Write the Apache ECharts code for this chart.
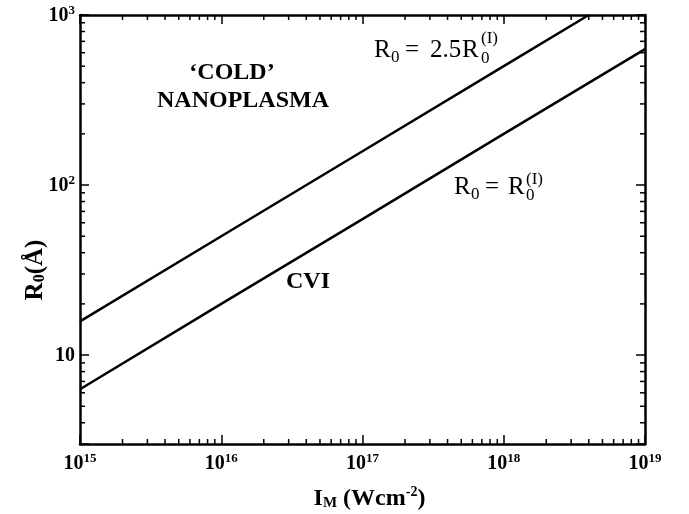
<!DOCTYPE html>
<html>
<head>
<meta charset="utf-8">
<script src="https://cdn.jsdelivr.net/npm/echarts@6/dist/echarts.min.js"></script>
<style>
html, body { margin: 0; padding: 0; background: #fff; }
#chart { width: 689px; height: 514px; }
</style>
</head>
<body>
<div id="chart"></div>
<script>
// peak intensity I_M (W cm^-2)
var intensity = [1e15, 1e16, 1e17, 1e18, 1e19];
// R0 = R0^(I) boundary (angstrom)
var r0Lower = [6.3, 20, 63, 200, 630];
// R0 = 2.5 R0^(I) boundary, leaves the frame at the top near 4e18
var intensityUpper = [1e15, 1e16, 1e17, 1e18, 4e18];
var r0Upper = [15.8, 50, 158, 500, 1000];

var xExponents = ["15", "16", "17", "18", "19"];
var xMinorTicks = [
  2e15, 3e15, 4e15, 5e15, 6e15, 7e15, 8e15, 9e15,
  2e16, 3e16, 4e16, 5e16, 6e16, 7e16, 8e16, 9e16,
  2e17, 3e17, 4e17, 5e17, 6e17, 7e17, 8e17, 9e17,
  2e18, 3e18, 4e18, 5e18, 6e18, 7e18, 8e18, 9e18
];
var yMinorTicks = [4, 5, 6, 7, 8, 9, 20, 30, 40, 50, 60, 70, 80, 90,
  200, 300, 400, 500, 600, 700, 800, 900];

var SERIF = "'Liberation Serif', 'DejaVu Serif', serif";

var chart = echarts.init(document.getElementById("chart"));

function pairs(xs, ys) {
  return xs.map(function (x, i) { return [x, ys[i]]; });
}

function tickRich() {
  return {
    b: { fontFamily: SERIF, fontWeight: "bold", fontSize: 20, color: "#000", verticalAlign: "bottom", lineHeight: 22 },
    s: { fontFamily: SERIF, fontWeight: "bold", fontSize: 13, color: "#000", verticalAlign: "top", lineHeight: 22, padding: [0, 0, 8, 0] }
  };
}

function renderXTick(params, api) {
  var cs = params.coordSys;
  var px = api.coord([api.value(0), api.value(1)])[0];
  var top = cs.y, bottom = cs.y + cs.height;
  return {
    type: "group",
    children: [
      { type: "line", shape: { x1: px, y1: bottom, x2: px, y2: bottom - 5 }, style: { stroke: "#000", lineWidth: 1.5 } },
      { type: "line", shape: { x1: px, y1: top, x2: px, y2: top + 5 }, style: { stroke: "#000", lineWidth: 1.5 } }
    ]
  };
}

function renderYTick(params, api) {
  var cs = params.coordSys;
  var py = api.coord([api.value(0), api.value(1)])[1];
  var left = cs.x, right = cs.x + cs.width;
  return {
    type: "group",
    children: [
      { type: "line", shape: { x1: left, y1: py, x2: left + 5, y2: py }, style: { stroke: "#000", lineWidth: 1.5 } },
      { type: "line", shape: { x1: right, y1: py, x2: right - 5, y2: py }, style: { stroke: "#000", lineWidth: 1.5 } }
    ]
  };
}

function txt(x, y, text, size, bold, align) {
  return {
    type: "text",
    x: x,
    y: y,
    silent: true,
    style: {
      text: text,
      fontFamily: SERIF,
      fontSize: size,
      fontWeight: bold ? "bold" : "normal",
      fill: "#000",
      align: align || "left",
      verticalAlign: "middle"
    }
  };
}

var axisLine = { show: true, lineStyle: { color: "#000", width: 2.5 } };
var majorTick = { show: true, inside: true, length: 9, lineStyle: { color: "#000", width: 1.5 } };

var option = {
  animation: false,
  backgroundColor: "#fff",
  grid: { left: 80, right: 44, top: 15, bottom: 70, outerBoundsMode: "none", containLabel: false },
  xAxis: [
    {
      type: "log",
      min: 1e15,
      max: 1e19,
      position: "bottom",
      axisLine: axisLine,
      axisTick: majorTick,
      splitLine: { show: false },
      axisLabel: {
        margin: 8,
        formatter: function (v) {
          var e = Math.round(Math.log10(v)) - 15;
          return "{b|10}{s|" + xExponents[e] + "}";
        },
        rich: tickRich()
      },
      name: "{i|I}{sub|M}{b| (Wcm}{sup|-2}{b|)}",
      nameLocation: "middle",
      nameGap: 41,
      nameTextStyle: {
        rich: {
          i: { fontFamily: SERIF, fontWeight: "bold", fontSize: 24, color: "#000", verticalAlign: "bottom", lineHeight: 26, padding: [0, 0, 0, 14] },
          b: { fontFamily: SERIF, fontWeight: "bold", fontSize: 24, color: "#000", verticalAlign: "bottom", lineHeight: 26 },
          sub: { fontFamily: SERIF, fontWeight: "bold", fontSize: 15, color: "#000", verticalAlign: "bottom", lineHeight: 26, padding: [7, 0, 0, 0] },
          sup: { fontFamily: SERIF, fontWeight: "bold", fontSize: 14, color: "#000", verticalAlign: "top", lineHeight: 26, padding: [0, 0, 10, 0] }
        }
      }
    },
    {
      type: "log",
      min: 1e15,
      max: 1e19,
      position: "top",
      axisLine: axisLine,
      axisTick: majorTick,
      axisLabel: { show: false },
      splitLine: { show: false }
    }
  ],
  yAxis: [
    {
      type: "log",
      min: 3,
      max: 1000,
      position: "left",
      axisLine: axisLine,
      axisTick: majorTick,
      splitLine: { show: false },
      axisLabel: {
        margin: 5,
        formatter: function (v) {
          if (Math.abs(v - 10) < 1e-6) return "{b|10}";
          if (Math.abs(v - 100) < 1e-6) return "{b|10}{s|2}";
          if (Math.abs(v - 1000) < 1e-6) return "{b|10}{s|3}";
          return "";
        },
        rich: tickRich()
      }
    },
    {
      type: "log",
      min: 3,
      max: 1000,
      position: "right",
      axisLine: axisLine,
      axisTick: majorTick,
      axisLabel: { show: false },
      splitLine: { show: false }
    }
  ],
  series: [
    {
      type: "line",
      name: "R0 = R0(I)",
      data: pairs(intensity, r0Lower),
      symbol: "none",
      lineStyle: { color: "#000", width: 2.5 }
    },
    {
      type: "line",
      name: "R0 = 2.5 R0(I)",
      data: pairs(intensityUpper, r0Upper),
      symbol: "none",
      lineStyle: { color: "#000", width: 2.5 }
    },
    {
      type: "custom",
      silent: true,
      renderItem: renderXTick,
      data: xMinorTicks.map(function (v) { return [v, 10]; })
    },
    {
      type: "custom",
      silent: true,
      renderItem: renderYTick,
      data: yMinorTicks.map(function (v) { return [1e16, v]; })
    }
  ],
  graphic: [
    // y axis title R0(Å)
    {
      type: "text",
      x: 34,
      y: 270,
      rotation: Math.PI / 2,
      silent: true,
      style: {
        text: "{b|R}{sub|0}{b|(Å)}",
        align: "center",
        verticalAlign: "middle",
        rich: {
          b: { fontFamily: SERIF, fontWeight: "bold", fontSize: 25, fill: "#000", verticalAlign: "bottom", lineHeight: 28 },
          sub: { fontFamily: SERIF, fontWeight: "bold", fontSize: 16, fill: "#000", verticalAlign: "bottom", lineHeight: 28, padding: [7, 0, 0, 0] }
        }
      }
    },
    txt(232, 73, "\u2018COLD\u2019", 24, true, "center"),
    txt(243, 101, "NANOPLASMA", 24, true, "center"),
    txt(308, 282, "CVI", 24, true, "center"),
    // R0 = 2.5R0^(I)
    txt(374, 50, "R", 25, false),
    txt(391, 58, "0", 17, false),
    txt(405, 50, "=", 25, false),
    txt(430, 50, "2.5", 25, false),
    txt(462, 50, "R", 25, false),
    txt(481, 39, "(I)", 17, false),
    txt(481, 59, "0", 17, false),
    // R0 = R0^(I)
    txt(454, 187, "R", 25, false),
    txt(471, 195, "0", 17, false),
    txt(485, 187, "=", 25, false),
    txt(508, 187, "R", 25, false),
    txt(526, 180, "(I)", 17, false),
    txt(526, 196, "0", 17, false)
  ]
};

chart.setOption(option);
</script>
</body>
</html>
